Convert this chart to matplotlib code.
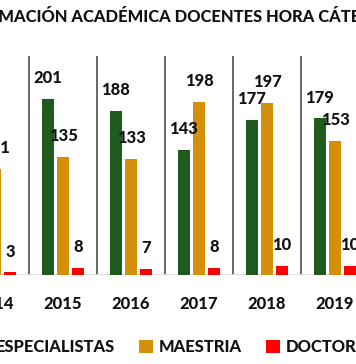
import matplotlib
matplotlib.use("Agg")
import matplotlib.pyplot as plt
from matplotlib.patches import Patch
import numpy as np

years = ["2014", "2015", "2016", "2017", "2018", "2019"]
especialistas = [160, 201, 188, 143, 177, 179]
maestria = [121, 135, 133, 198, 197, 153]
doctorado = [3, 8, 7, 8, 10, 10]
series_names = ["ESPECIALISTAS", "MAESTRIA", "DOCTORADO"]
title = "FORMACIÓN ACADÉMICA DOCENTES HORA CÁTEDRA"

colors = ["#1F5A1E", "#D4900B", "#FF0000"]
FONT = "Lato"
FW = 900
FS = 11.9
TC = "#111111"

W, H = 356, 364
fig = plt.figure(figsize=(W / 100, H / 100), dpi=100)
fig.patch.set_facecolor("white")

# axes extends beyond figure (cropped reference)
left_px, right_px = -39, 369
top_px, base_px = 56.25, 275
ax = fig.add_axes([left_px / W, (H - base_px) / H, (right_px - left_px) / W, (base_px - top_px) / H])
ax.set_facecolor("white")

x = np.arange(len(years))
bw = 0.175
offsets = [-0.225, 0.0, 0.22]
for vals, off, c in zip([especialistas, maestria, doctorado], offsets, colors):
    bars = ax.bar(x + off, vals, width=bw, color=c, zorder=3)
    for b, v in zip(bars, vals):
        ax.annotate(str(v), (b.get_x() + b.get_width() / 2, v), xytext=(0, 15),
                    textcoords="offset points", ha="center", va="center",
                    fontsize=FS, fontweight=FW, family=FONT, color=TC, zorder=4)

ax.set_xlim(-0.5, len(years) - 0.5)
ax.set_ylim(0, 250)
for i in range(len(years) - 1):
    ax.axvline(i + 0.5, color="#404040", lw=1.1, zorder=2)
ax.axhline(0, color="#D9D9D9", lw=1.2, zorder=2)

for s in ax.spines.values():
    s.set_visible(False)
ax.set_yticks([])
ax.set_xticks(x)
ax.set_xticklabels(years, fontsize=FS, fontweight=FW, family=FONT, color=TC)
ax.tick_params(axis="x", length=0, pad=15)

fig.text(180 / W, 1 - 17 / H, title, ha="center", va="center", fontsize=FS,
         fontweight=FW, family=FONT, color=TC)

handles = [Patch(facecolor=c, edgecolor="none") for c in colors]
leg = fig.legend(handles, series_names, loc="center", bbox_to_anchor=(185 / W, 1 - 347 / H),
                 ncol=3, frameon=False, handlelength=0.85, handleheight=0.85,
                 handletextpad=0.3, columnspacing=1.5,
                 prop={"family": FONT, "weight": FW, "size": FS})
for t in leg.get_texts():
    t.set_color(TC)

fig.savefig("out.png", dpi=100, facecolor="white")
